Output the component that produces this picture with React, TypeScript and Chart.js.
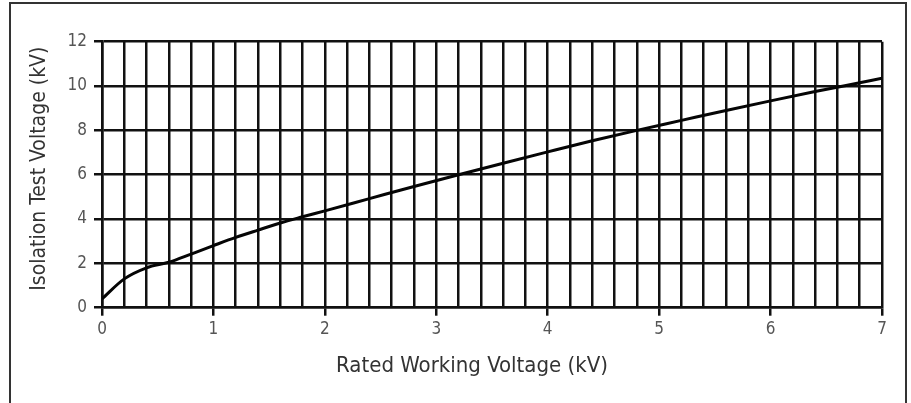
import React, { useEffect, useRef } from "react";
import { Chart, registerables } from "chart.js";

Chart.register(...registerables);

const RATED_KV: number[] = [0, 0.2, 0.4, 0.6, 0.8, 1.0, 1.2, 1.4, 1.6, 1.8, 2.0, 2.4, 2.8, 3.2, 3.6, 4.0, 4.4, 4.8, 5.2, 5.6, 6.0, 6.4, 6.8, 7.0];
const TEST_KV: number[] = [0.4, 1.3, 1.8, 2.05, 2.42, 2.8, 3.17, 3.5, 3.82, 4.1, 4.37, 4.92, 5.47, 6.0, 6.52, 7.03, 7.53, 8.0, 8.45, 8.9, 9.33, 9.75, 10.15, 10.35];

const X_MIN = 0;
const X_MAX = 7;
const X_STEP = 0.2;
const Y_MIN = 0;
const Y_MAX = 12;
const Y_STEP = 2;

const X_TITLE = "Rated Working Voltage (kV)";
const Y_TITLE = "Isolation Test Voltage (kV)";

const FONT = "'DejaVu Sans Condensed', 'Liberation Sans', sans-serif";

const isInt = (v: number) => Math.abs(v - Math.round(v)) < 1e-6;

const axisTitles = {
  id: "axisTitles",
  afterDraw(chart: any) {
    const { ctx, chartArea } = chart;
    const cx = (chartArea.left + chartArea.right) / 2;
    const cy = (chartArea.top + chartArea.bottom) / 2;
    ctx.save();
    ctx.fillStyle = "#333";
    ctx.textAlign = "center";
    ctx.textBaseline = "alphabetic";
    ctx.font = `22px ${FONT}`;
    ctx.fillText(X_TITLE, cx - 20, chartArea.bottom + 64.5);
    ctx.translate(chartArea.left - 57, cy - 6);
    ctx.rotate(-Math.PI / 2);
    ctx.font = `21px ${FONT}`;
    ctx.fillText(Y_TITLE, 0, 0);
    ctx.restore();
  },
};

export default function App() {
  const ref = useRef<HTMLCanvasElement | null>(null);

  useEffect(() => {
    if (!ref.current) return;
    const chart = new Chart(ref.current, {
      type: "line",
      data: {
        datasets: [
          {
            data: RATED_KV.map((x, i) => ({ x, y: TEST_KV[i] })),
            borderColor: "#050505",
            borderWidth: 3,
            pointRadius: 0,
            cubicInterpolationMode: "monotone",
            fill: false,
          },
        ],
      },
      options: {
        responsive: false,
        animation: false,
        layout: { padding: { left: 25, right: 29, top: 41.7, bottom: 23 } },
        plugins: { legend: { display: false }, tooltip: { enabled: false } },
        scales: {
          x: {
            type: "linear",
            min: X_MIN,
            max: X_MAX,
            afterFit: (s: any) => {
              s.height = 72.3;
            },
            ticks: {
              stepSize: X_STEP,
              autoSkip: false,
              maxRotation: 0,
              padding: 4,
              color: "#555",
              font: { family: FONT, size: 17 },
              callback: (v: any) => (isInt(Number(v)) ? String(Math.round(Number(v))) : ""),
            },
            grid: {
              color: "#111",
              lineWidth: 2.5,
              tickLength: 8,
              tickWidth: 2.5,
              tickColor: (ctx: any) => (ctx.tick && isInt(ctx.tick.value) ? "#111" : "rgba(0,0,0,0)"),
            },
            border: { color: "#111", width: 2.5 },
          },
          y: {
            type: "linear",
            min: Y_MIN,
            max: Y_MAX,
            afterFit: (s: any) => {
              s.width = 77;
            },
            ticks: {
              stepSize: Y_STEP,
              padding: 7,
              color: "#555",
              font: { family: FONT, size: 17 },
            },
            grid: {
              color: "#111",
              lineWidth: 2.5,
              tickLength: 8,
              tickWidth: 2.5,
              tickColor: "#111",
            },
            border: { color: "#111", width: 2.5 },
          },
        },
      },
      plugins: [axisTitles],
    } as any);
    return () => chart.destroy();
  }, []);

  return (
    <div
      style={{
        position: "fixed",
        left: 0,
        top: 0,
        width: 911,
        height: 403,
        overflow: "hidden",
        background: "#fff",
      }}
    >
      <div
        style={{
          position: "absolute",
          left: 9,
          top: 2,
          width: 898,
          height: 410,
          border: "2px solid #333",
          boxSizing: "border-box",
        }}
      />
      <canvas
        ref={ref}
        width={911}
        height={403}
        style={{ position: "absolute", left: 0, top: 0, display: "block" }}
      />
    </div>
  );
}
